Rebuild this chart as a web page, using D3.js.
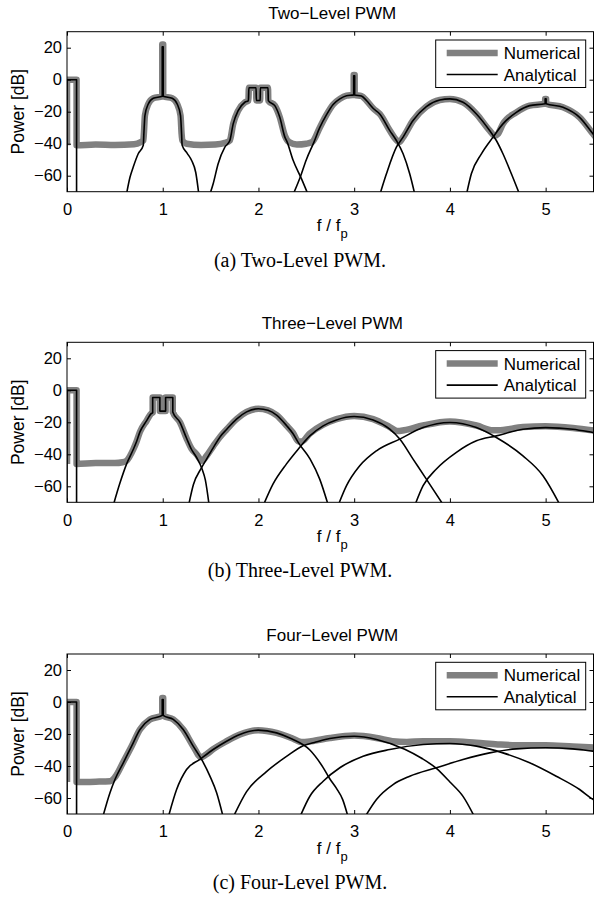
<!DOCTYPE html>
<html>
<head>
<meta charset="utf-8">
<script src="https://cdn.jsdelivr.net/npm/d3@7.9.0/dist/d3.min.js"></script>
<style>
  body { margin: 0; background: #fff; }
  svg text { font-family: "Liberation Sans", Arial, Helvetica, sans-serif; fill: #000; }
  svg text.caption { font-family: "Liberation Serif", "Times New Roman", serif; }
</style>
</head>
<body>
<svg id="chart" width="594" height="898"></svg>
<script>
// axes
const xTicks = [0, 1, 2, 3, 4, 5];
const yTicks = [-60, -40, -20, 0, 20];
const legendLabels = ['Numerical', 'Analytical'];

// baseband block, same for all three
const baseband = [[0, -75], [0, 0], [0.1, 0], [0.1, -75]];

// ---- two-level: [f/fp, dB]
const twoNumerical = [[0, -41], [0, 0], [0.1, 0], [0.1, -41], [0.3, -40.5], [0.5, -40.8], [0.7, -40.3], [0.77, -39], [0.797, -38], [0.803, -33.8], [0.814, -22.4], [0.849, -15.2], [0.901, -11.6], [0.995, -10.4], [0.995, 22], [1.005, 22], [1.005, -10.4], [1.099, -11.6], [1.151, -15.2], [1.186, -22.4], [1.197, -33.8], [1.205, -38], [1.25, -40], [1.4, -40.8], [1.55, -40.5], [1.65, -39.5], [1.701, -38], [1.736, -27.6], [1.788, -19.3], [1.858, -14.1], [1.895, -13.1], [1.9, -5], [1.975, -5], [1.978, -13], [2.018, -13], [2.02, -5], [2.1, -5], [2.103, -13.1], [2.171, -16.2], [2.223, -23.5], [2.276, -35], [2.32, -39], [2.4, -40.5], [2.5, -40], [2.56, -39], [2.64, -30], [2.71, -22], [2.78, -15.5], [2.85, -12], [2.92, -10], [2.995, -9.5], [2.995, 3], [3.005, 3], [3.005, -9.5], [3.076, -10.2], [3.128, -13], [3.2, -18], [3.267, -21.4], [3.372, -31.8], [3.43, -37], [3.47, -39], [3.511, -36], [3.615, -25.5], [3.754, -16.8], [3.894, -12.7], [4.0, -12], [4.137, -14.1], [4.277, -21.4], [4.415, -31.8], [4.47, -35], [4.5, -34], [4.554, -27.6], [4.694, -20.4], [4.833, -16.2], [4.995, -15], [4.995, -12], [5.005, -12], [5.005, -15], [5.181, -17.2], [5.355, -23.5], [5.494, -33.8], [5.55, -38]];
const twoH1 = [[0.62, -72], [0.658, -61], [0.692, -54.6], [0.744, -46.3], [0.797, -41], [0.803, -33.8], [0.814, -22.4], [0.849, -15.2], [0.901, -11.6], [0.995, -10.4], [0.995, 20.5], [1.005, 20.5], [1.005, -10.4], [1.099, -11.6], [1.151, -15.2], [1.186, -22.4], [1.197, -33.8], [1.203, -41], [1.256, -46], [1.302, -50.5], [1.345, -58], [1.378, -72]];
const twoH2 = [[1.49, -72], [1.527, -65], [1.579, -52.5], [1.649, -42.2], [1.701, -38], [1.736, -27.6], [1.788, -19.3], [1.858, -14.1], [1.895, -13.1], [1.9, -5], [1.975, -5], [1.978, -13], [2.018, -13], [2.02, -5], [2.1, -5], [2.103, -13.1], [2.171, -16.2], [2.223, -23.5], [2.276, -35.9], [2.3, -39], [2.36, -50], [2.45, -62], [2.52, -72]];
const twoH3 = [[2.36, -72], [2.436, -61], [2.5, -50], [2.58, -39], [2.64, -30], [2.71, -22], [2.78, -15.5], [2.85, -12], [2.92, -10], [2.995, -9.5], [2.995, 2.5], [3.005, 2.5], [3.005, -9.5], [3.076, -10.2], [3.128, -13], [3.2, -18], [3.267, -21.4], [3.372, -31.8], [3.441, -38], [3.511, -46.3], [3.58, -58.8], [3.635, -72]];
const twoH4 = [[3.267, -72], [3.337, -58.8], [3.441, -42.2], [3.511, -35.9], [3.615, -25.5], [3.754, -16.8], [3.894, -12.7], [4.0, -12], [4.137, -14.1], [4.277, -21.4], [4.415, -31.8], [4.485, -38], [4.554, -46.3], [4.642, -58.8], [4.73, -72]];
const twoH5 = [[4.172, -72], [4.224, -58.8], [4.329, -46.3], [4.45, -35.9], [4.554, -27.6], [4.694, -20.4], [4.833, -16.2], [4.995, -15], [4.995, -12], [5.005, -12], [5.005, -15], [5.181, -17.2], [5.355, -23.5], [5.494, -33.8], [5.55, -38]];

// ---- three-level
const threeNumerical = [[0, -46], [0, 0], [0.1, 0], [0.1, -46], [0.3, -45.5], [0.5, -45.5], [0.58, -45], [0.623, -44], [0.692, -37], [0.727, -32], [0.762, -26], [0.832, -19], [0.88, -14.5], [0.895, -14], [0.895, -4.5], [0.97, -4.5], [0.97, -13], [1.03, -13], [1.03, -4.5], [1.105, -4.5], [1.105, -13.5], [1.18, -20], [1.249, -30], [1.301, -36.5], [1.354, -40], [1.41, -44], [1.458, -41], [1.527, -35], [1.6, -29], [1.667, -24.5], [1.771, -18], [1.876, -13.5], [2.0, -11.5], [2.1, -12.5], [2.189, -15.5], [2.293, -22], [2.36, -26.5], [2.42, -32], [2.45, -32], [2.537, -27], [2.676, -21.5], [2.815, -18], [3.0, -16], [3.198, -18], [3.372, -23], [3.45, -25.5], [3.52, -25], [3.719, -22], [4.0, -19.5], [4.277, -22], [4.45, -25], [4.5, -25], [4.763, -23], [5.0, -22.5], [5.285, -23.5], [5.55, -25.5]];
const threeH1 = [[0.483, -72], [0.553, -58], [0.623, -46], [0.692, -37], [0.727, -32], [0.762, -26], [0.832, -19], [0.88, -14.5], [0.895, -14], [0.895, -4.5], [0.97, -4.5], [0.97, -13], [1.03, -13], [1.03, -4.5], [1.105, -4.5], [1.105, -13.5], [1.18, -20], [1.249, -30], [1.301, -37], [1.354, -42], [1.41, -49], [1.445, -56], [1.485, -72]];
const threeH2 = [[1.27, -72], [1.32, -59], [1.4, -49], [1.458, -43], [1.527, -36], [1.6, -29], [1.667, -24.5], [1.771, -18], [1.876, -13.5], [2.0, -11.5], [2.1, -12.5], [2.189, -15.5], [2.293, -22], [2.36, -27], [2.42, -33], [2.54, -43], [2.64, -55.5], [2.73, -72]];
const threeH3 = [[2.05, -72], [2.153, -58.5], [2.293, -46], [2.415, -36.8], [2.537, -28.5], [2.676, -22.2], [2.815, -18.5], [3.0, -16.4], [3.198, -18.5], [3.372, -24.3], [3.476, -30.5], [3.615, -43], [3.754, -55.5], [3.935, -72]];
const threeH4 = [[2.832, -72], [2.92, -59.6], [3.058, -47.2], [3.233, -37.8], [3.476, -30.5], [3.719, -23.3], [4.0, -20.1], [4.277, -23.3], [4.485, -29.5], [4.763, -41], [4.972, -53.4], [5.153, -72]];
const threeH5 = [[3.633, -72], [3.72, -59.6], [3.859, -49.2], [4.068, -38.8], [4.277, -31.6], [4.485, -28.5], [4.763, -24.3], [5.0, -23.3], [5.285, -24.3], [5.494, -26.4], [5.55, -27]];

// ---- four-level
const fourNumerical = [[0, -50], [0, 0], [0.1, 0], [0.1, -50], [0.3, -49.8], [0.45, -49.5], [0.501, -47], [0.588, -37.5], [0.675, -27.6], [0.762, -17.2], [0.866, -10.9], [0.995, -8.4], [0.995, 2.5], [1.005, 2.5], [1.005, -8.4], [1.11, -10.9], [1.214, -17.2], [1.318, -27.6], [1.4, -34.5], [1.45, -33], [1.527, -29.5], [1.667, -24.5], [1.806, -20.3], [1.997, -17.6], [2.189, -19.3], [2.345, -22.5], [2.45, -25], [2.55, -24.5], [2.745, -22.5], [3.0, -21], [3.233, -22.5], [3.4, -24.5], [3.55, -25], [3.719, -24.5], [4.0, -24.5], [4.277, -25.5], [4.5, -26.5], [4.694, -27], [5.0, -27], [5.285, -27.8], [5.55, -28.5]];
const fourH1 = [[0.373, -72], [0.449, -56.7], [0.501, -48.4], [0.588, -38], [0.675, -27.6], [0.762, -17.2], [0.866, -10.9], [0.995, -8.4], [0.995, 1.5], [1.005, 1.5], [1.005, -8.4], [1.11, -10.9], [1.214, -17.2], [1.318, -27.6], [1.406, -35.9], [1.493, -46.3], [1.563, -56.7], [1.632, -72]];
const fourH2 = [[1.058, -72], [1.145, -54.7], [1.249, -42.2], [1.388, -35.9], [1.527, -29.7], [1.667, -24.5], [1.806, -20.3], [1.997, -17.6], [2.189, -19.3], [2.345, -23], [2.537, -30], [2.676, -41], [2.745, -48], [2.815, -54], [2.88, -61], [2.937, -72]];
const fourH3 = [[1.736, -72], [1.876, -56], [2.084, -43.5], [2.293, -34], [2.467, -27.3], [2.6, -25], [2.745, -22.8], [3.0, -21.4], [3.233, -23.4], [3.528, -29.5], [3.7, -35], [3.859, -41.5], [4.0, -50], [4.137, -59], [4.259, -72]];
const fourH4 = [[2.432, -72], [2.537, -58.9], [2.676, -49.5], [2.85, -41.1], [3.093, -33.9], [3.372, -29.7], [3.719, -26.6], [4.0, -25.9], [4.277, -27.6], [4.554, -31.8], [4.833, -38], [5.111, -46.4], [5.355, -54.7], [5.494, -60.9], [5.55, -63]];
const fourH5 = [[3.111, -72], [3.233, -60.9], [3.406, -51.6], [3.58, -46.4], [3.859, -41.1], [4.137, -35.9], [4.415, -31.8], [4.694, -29.3], [5.0, -28.6], [5.285, -29.3], [5.494, -30.7], [5.55, -31]];

const panels = [
  { top: 31.7, title: 'Two\u2212Level PWM', caption: '(a) Two-Level PWM.',
    numerical: twoNumerical, analytical: [baseband, twoH1, twoH2, twoH3, twoH4, twoH5] },
  { top: 342.3, title: 'Three\u2212Level PWM', caption: '(b) Three-Level PWM.',
    numerical: threeNumerical, analytical: [baseband, threeH1, threeH2, threeH3, threeH4, threeH5] },
  { top: 654, title: 'Four\u2212Level PWM', caption: '(c) Four-Level PWM.',
    numerical: fourNumerical, analytical: [baseband, fourH1, fourH2, fourH3, fourH4, fourH5] },
];

const left = 67, right = 593.5, plotH = 160;
const W = right - left;
const svg = d3.select('#chart');

const x = d3.scaleLinear().domain([0, 5.5]).range([0, W]);
const y = d3.scaleLinear().domain([-70, 30]).range([plotH, 0]);
const fmt = d3.format('d');

// monotone keeps the vertical jumps straight (no overshoot)
const line = d3.line()
  .x(d => x(d[0]))
  .y(d => y(d[1]))
  .curve(d3.curveMonotoneX);

panels.forEach((p, i) => {
  const g = svg.append('g').attr('transform', `translate(${left},${p.top})`);

  g.append('clipPath').attr('id', `clip${i}`)
    .append('rect').attr('width', W).attr('height', plotH);

  const plot = g.append('g').attr('clip-path', `url(#clip${i})`);

  plot.append('path')
    .attr('d', line(p.numerical))
    .attr('fill', 'none')
    .attr('stroke', '#808080')
    .attr('stroke-width', 6.5)
    .attr('stroke-linejoin', 'round');

  p.analytical.forEach(a => {
    plot.append('path')
      .attr('d', line(a))
      .attr('fill', 'none')
      .attr('stroke', '#000')
      .attr('stroke-width', 1.6)
      .attr('stroke-linejoin', 'round');
  });

  // axes, ticks inward like matlab
  g.append('g').attr('transform', `translate(0,${plotH})`)
    .call(d3.axisBottom(x).tickValues(xTicks).tickFormat(fmt).tickSizeInner(-4).tickSizeOuter(0).tickPadding(11.5));
  g.append('g')
    .call(d3.axisTop(x).tickValues(xTicks).tickSizeInner(-4).tickSizeOuter(0).tickFormat(''));
  g.append('g')
    .call(d3.axisLeft(y).tickValues(yTicks).tickFormat(fmt).tickSizeInner(-4).tickSizeOuter(0).tickPadding(5));
  g.append('g').attr('transform', `translate(${W},0)`)
    .call(d3.axisRight(y).tickValues(yTicks).tickSizeInner(-4).tickSizeOuter(0).tickFormat(''));

  g.selectAll('.domain').remove();
  g.selectAll('.tick line').attr('stroke', '#000');
  g.selectAll('.tick text').attr('font-size', 16.5).attr('font-family', null);

  g.append('rect')
    .attr('width', W).attr('height', plotH)
    .attr('fill', 'none').attr('stroke', '#000').attr('stroke-width', 1);

  // labels
  g.append('text')
    .attr('x', W / 2 + 2).attr('y', -13)
    .attr('text-anchor', 'middle').attr('font-size', 17)
    .text(p.title);

  const xl = g.append('text')
    .attr('x', W / 2 + 2).attr('y', plotH + 39.5)
    .attr('text-anchor', 'middle').attr('font-size', 17);
  xl.append('tspan').text('f / f');
  xl.append('tspan').attr('dy', 7).attr('font-size', 13).text('p');

  g.append('text')
    .attr('transform', `translate(${24 - left},${plotH / 2}) rotate(-90)`)
    .attr('text-anchor', 'middle').attr('font-size', 17.5)
    .text('Power [dB]');

  g.append('text')
    .attr('class', 'caption')
    .attr('x', 300 - left).attr('y', plotH + 75)
    .attr('text-anchor', 'middle').attr('font-size', 20)
    .text(p.caption);

  // legend
  const lg = g.append('g').attr('transform', `translate(${435.7 - left},8.3)`);
  lg.append('rect').attr('width', 150).attr('height', 47.5)
    .attr('fill', '#fff').attr('stroke', '#000').attr('stroke-width', 1);
  lg.append('line').attr('x1', 11).attr('x2', 62).attr('y1', 13).attr('y2', 13)
    .attr('stroke', '#808080').attr('stroke-width', 6.5);
  lg.append('line').attr('x1', 11).attr('x2', 62).attr('y1', 34.5).attr('y2', 34.5)
    .attr('stroke', '#000').attr('stroke-width', 1.6);
  lg.selectAll('text.leg').data(legendLabels).join('text')
    .attr('class', 'leg')
    .attr('x', 68).attr('y', (d, k) => 19 + k * 21.5)
    .attr('font-size', 17)
    .text(d => d);
});
</script>
</body>
</html>
